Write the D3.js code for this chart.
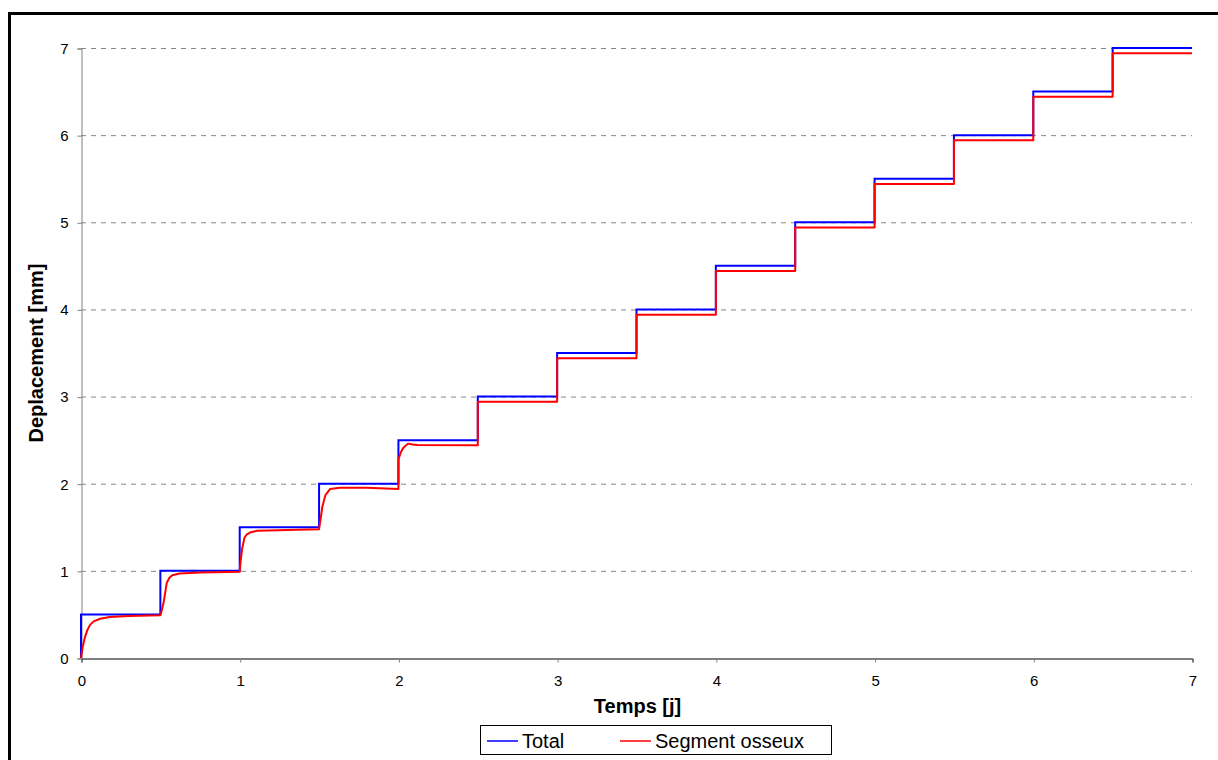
<!DOCTYPE html>
<html>
<head>
<meta charset="utf-8">
<script src="https://cdn.jsdelivr.net/npm/d3@7"></script>
<style>
  body { margin: 0; background: #fff; }
  svg { font-family: "Liberation Sans", Arial, sans-serif; }
  .tick text { font-size: 15px; fill: #000; }
</style>
</head>
<body>
<svg id="chart" width="1218" height="760"></svg>
<script>
// Total displacement: step of 0.5 mm every half day (drawn as step-after)
const totalT = [0, 0, 0.5, 1, 1.5, 2, 2.5, 3, 3.5, 4, 4.5, 5, 5.5, 6, 6.5, 7];
const totalY = [0, 0.5, 1, 1.5, 2, 2.5, 3, 3.5, 4, 4.5, 5, 5.5, 6, 6.5, 7, 7];

// Bone segment displacement
const boneT = [
  0, 0.01, 0.025, 0.04, 0.057, 0.08, 0.12, 0.18, 0.3, 0.5,
  0.505, 0.52, 0.54, 0.557, 0.575, 0.62, 0.75, 1.0,
  1.005, 1.015, 1.03, 1.045, 1.065, 1.11, 1.3, 1.5,
  1.51, 1.52, 1.54, 1.57, 1.63, 1.8, 2.0,
  2.0, 2.015, 2.03, 2.06, 2.09, 2.12, 2.5,
  2.5, 3.0, 3.0, 3.5, 3.5, 4.0, 4.0, 4.5, 4.5, 5.0, 5.0, 5.5, 5.5, 6.0, 6.0, 6.5, 6.5, 7.0
];
const boneY = [
  0, 0.12, 0.24, 0.32, 0.38, 0.42, 0.45, 0.47, 0.482, 0.49,
  0.52, 0.63, 0.86, 0.92, 0.95, 0.97, 0.98, 0.99,
  1.1, 1.25, 1.38, 1.42, 1.44, 1.46, 1.47, 1.478,
  1.6, 1.73, 1.87, 1.94, 1.955, 1.955, 1.94,
  2.28, 2.36, 2.41, 2.46, 2.45, 2.445, 2.44,
  2.94, 2.94, 3.44, 3.44, 3.94, 3.94, 4.44, 4.44, 4.94, 4.94, 5.44, 5.44, 5.94, 5.94, 6.44, 6.44, 6.94, 6.94
];

const xTicks = [0, 1, 2, 3, 4, 5, 6, 7];
const yTicks = [0, 1, 2, 3, 4, 5, 6, 7];
const seriesNames = ['Total', 'Segment osseux'];
const seriesColors = ['#0000ff', '#ff0000'];

const svg = d3.select('#chart');

// outer chart border
svg.append('rect')
  .attr('x', 9.5).attr('y', 13.5)
  .attr('width', 1220).attr('height', 760)
  .attr('fill', 'none').attr('stroke', '#000').attr('stroke-width', 3);

const plotLeft = 81, plotRight = 1192, plotTop = 48, plotBottom = 658;
const x = d3.scaleLinear().domain([0, 7]).range([plotLeft, plotRight]);
const y = d3.scaleLinear().domain([0, 7]).range([plotBottom, plotTop]);

// gridlines
svg.append('g')
  .selectAll('line')
  .data(yTicks.filter(d => d > 0))
  .enter().append('line')
  .attr('x1', plotLeft).attr('x2', plotRight)
  .attr('y1', d => y(d) + 0.5).attr('y2', d => y(d) + 0.5)
  .attr('stroke', '#888').attr('stroke-width', 1)
  .attr('stroke-dasharray', '5,5');

// y axis
const yAxis = svg.append('g')
  .attr('transform', `translate(${plotLeft + 0.5},0.5)`)
  .call(d3.axisLeft(y).tickValues(yTicks).tickSize(4).tickPadding(9).tickFormat(d3.format('d')));
yAxis.attr('font-family', null);
yAxis.select('.domain').attr('stroke', '#808080');
yAxis.selectAll('.tick line').attr('stroke', '#808080');

// x axis
const xAxis = svg.append('g')
  .attr('transform', `translate(0.5,${plotBottom + 0.5})`)
  .call(d3.axisBottom(x).tickValues(xTicks).tickSize(4).tickPadding(13).tickFormat(d3.format('d')));
xAxis.attr('font-family', null);
xAxis.select('.domain').attr('stroke', '#000');
xAxis.selectAll('.tick line').attr('stroke', '#808080');

// axis titles
svg.append('text')
  .attr('x', (plotLeft + plotRight) / 2 + 1).attr('y', 713)
  .attr('text-anchor', 'middle')
  .attr('font-size', 20).attr('font-weight', 'bold')
  .text('Temps [j]');

svg.append('text')
  .attr('transform', `translate(43,${(plotTop + plotBottom) / 2}) rotate(-90)`)
  .attr('text-anchor', 'middle')
  .attr('font-size', 20).attr('font-weight', 'bold')
  .text('Deplacement [mm]');

// lines
const totalData = totalT.map((t, i) => [t, totalY[i]]);
const boneData = boneT.map((t, i) => [t, boneY[i]]);

svg.append('path')
  .datum(totalData)
  .attr('d', d3.line().x(d => x(d[0])).y(d => y(d[1])).curve(d3.curveStepAfter))
  .attr('fill', 'none').attr('stroke', seriesColors[0]).attr('stroke-width', 2);

svg.append('path')
  .datum(boneData)
  .attr('d', d3.line().x(d => x(d[0])).y(d => y(d[1])))
  .attr('fill', 'none').attr('stroke', seriesColors[1]).attr('stroke-width', 2)
  .attr('stroke-linejoin', 'round');

// legend
const legend = svg.append('g');
legend.append('rect')
  .attr('x', 480.5).attr('y', 725.5)
  .attr('width', 351).attr('height', 29)
  .attr('fill', '#fff').attr('stroke', '#000').attr('stroke-width', 1);

const legendX = [487, 620];
seriesNames.forEach((name, i) => {
  legend.append('line')
    .attr('x1', legendX[i]).attr('x2', legendX[i] + 31)
    .attr('y1', 741).attr('y2', 741)
    .attr('stroke', seriesColors[i]).attr('stroke-width', 1.5);
  legend.append('text')
    .attr('x', legendX[i] + 35).attr('y', 748)
    .attr('font-size', 20)
    .text(name);
});
</script>
</body>
</html>
